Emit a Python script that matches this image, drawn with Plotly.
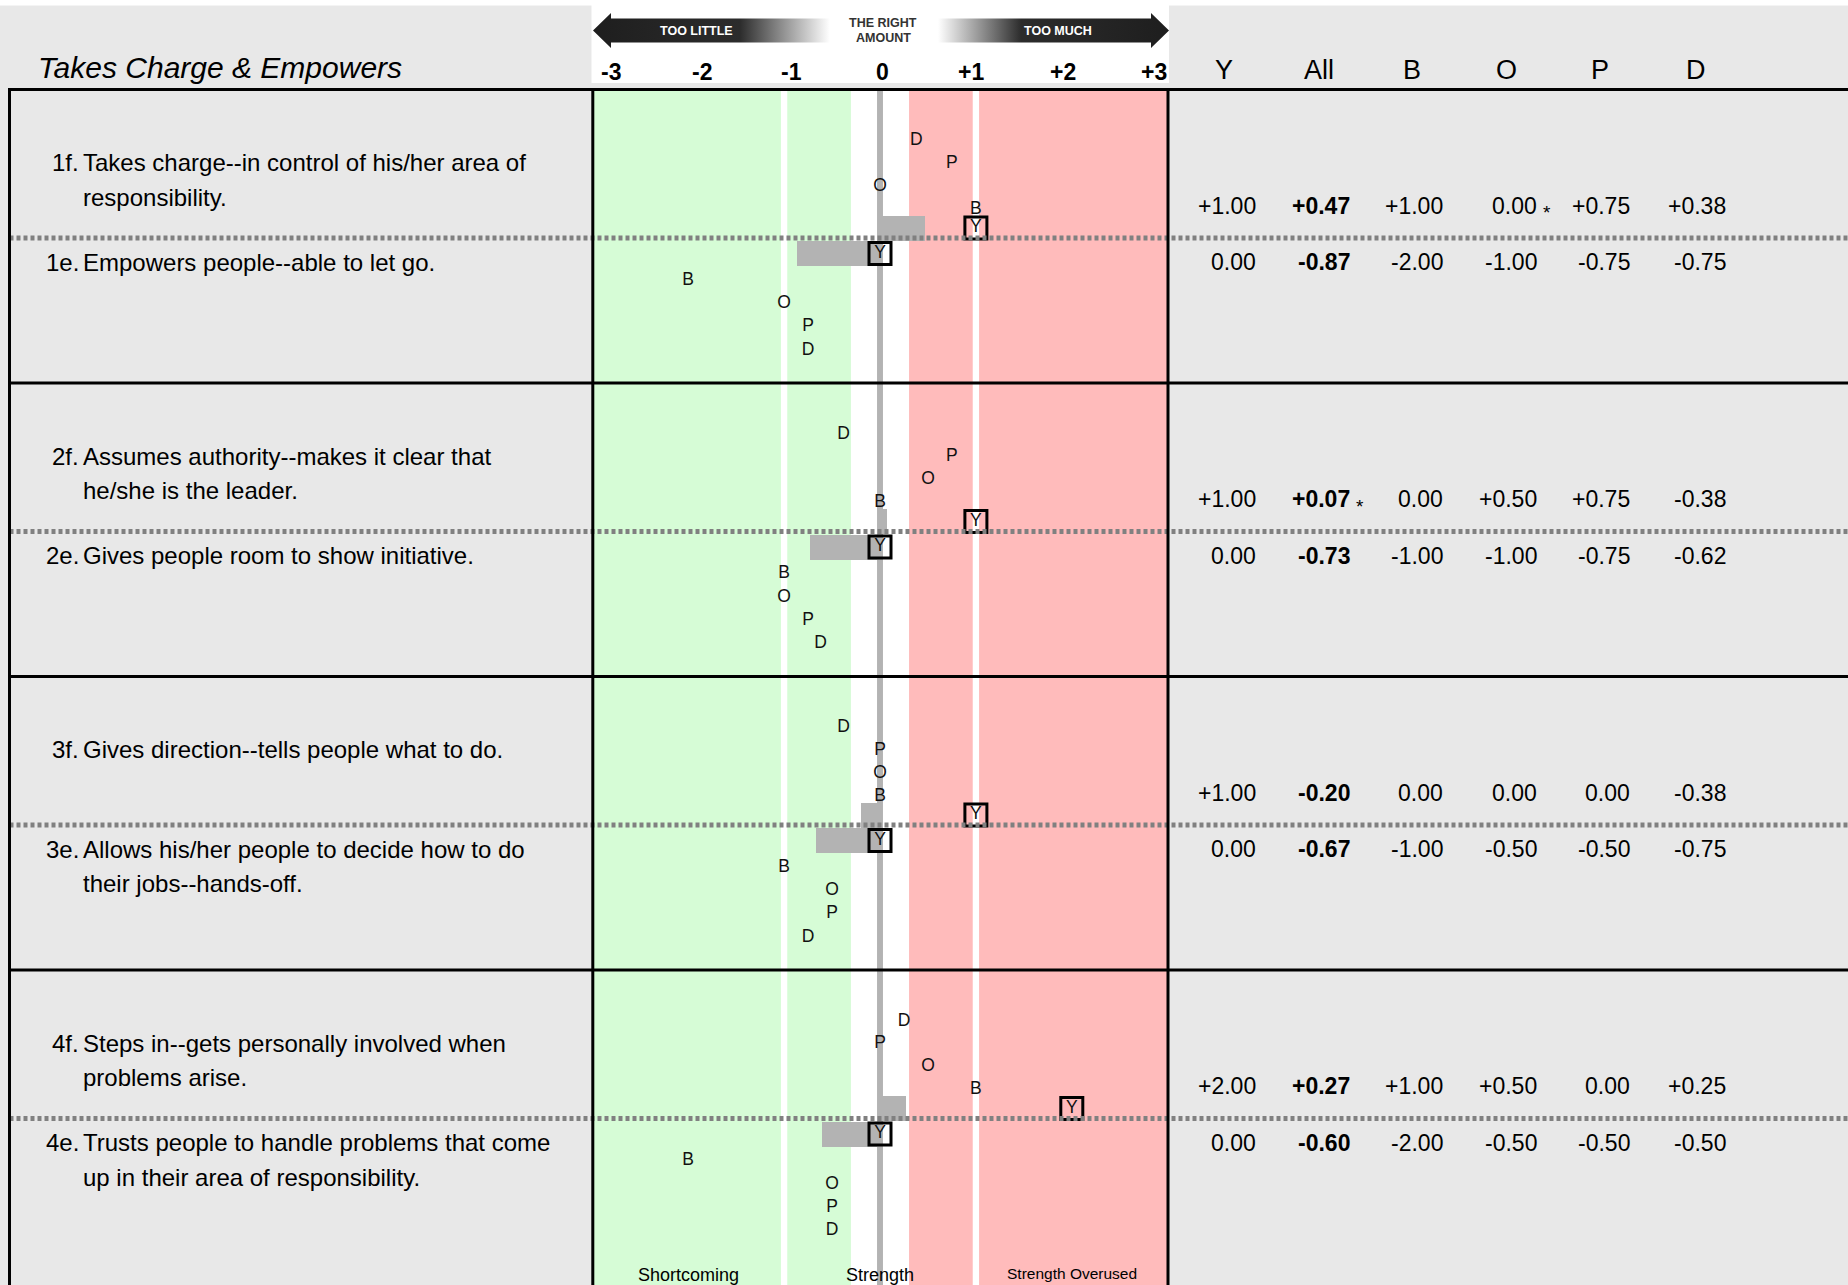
import plotly.graph_objects as go

# ---------------- data ----------------
TITLE = "Takes Charge & Empowers"
ITEM_IDS = ["1f", "1e", "2f", "2e", "3f", "3e", "4f", "4e"]
ITEM_LINES = [
    ["Takes charge--in control of his/her area of", "responsibility."],
    ["Empowers people--able to let go."],
    ["Assumes authority--makes it clear that", "he/she is the leader."],
    ["Gives people room to show initiative."],
    ["Gives direction--tells people what to do."],
    ["Allows his/her people to decide how to do", "their jobs--hands-off."],
    ["Steps in--gets personally involved when", "problems arise."],
    ["Trusts people to handle problems that come", "up in their area of responsibility."],
]
COLUMNS = ["Y", "All", "B", "O", "P", "D"]
Y_SELF = [1.00, 0.00, 1.00, 0.00, 1.00, 0.00, 2.00, 0.00]
ALL = [0.47, -0.87, 0.07, -0.73, -0.20, -0.67, 0.27, -0.60]
BOSS = [1.00, -2.00, 0.00, -1.00, 0.00, -1.00, 1.00, -2.00]
OTHER = [0.00, -1.00, 0.50, -1.00, 0.00, -0.50, 0.50, -0.50]
PEER = [0.75, -0.75, 0.75, -0.75, 0.00, -0.50, 0.00, -0.50]
DIRECT = [0.38, -0.75, -0.38, -0.62, -0.38, -0.75, 0.25, -0.50]
STARRED = [("1f", "O"), ("2f", "All")]
SCALE_TICKS = ["-3", "-2", "-1", "0", "+1", "+2", "+3"]
ARROW_LEFT_TEXT = "TOO LITTLE"
ARROW_RIGHT_TEXT = "TOO MUCH"
ARROW_MID_TEXT = ["THE RIGHT", "AMOUNT"]
ZONE_LABELS = ["Shortcoming", "Strength", "Strength Overused"]
ZONE_LABEL_AT = [-2, 0, 2]

# ---------------- layout constants (pixels) ----------------
W, H = 1848, 1285
PX_M3, PX_P3 = 592.3, 1167.7          # pixel position of -3 and +3
TABLE_TOP, GROUP_H, DOT0 = 89.6, 293.5, 238.0
LEFT_X, PANEL_L, PANEL_R = 9.5, 592.8, 1168.0
TICK_PX = [611, 702, 791, 882, 971, 1063, 1154]
HEAD_PX = [1224, 1319, 1412, 1506, 1600, 1696]
RIGHT_PX = [1256, 1350, 1443, 1537, 1630, 1726]
FONT = '"Liberation Sans", Arial, sans-serif'
GREEN, RED, BAR_GRAY, BG = "#d6fcd6", "#ffbbbb", "#b3b3b3", "#e8e8e8"

n = len(ITEM_IDS)
group = [i // 2 for i in range(n)]
is_f = [i % 2 == 0 for i in range(n)]
dot_y = [DOT0 + g * GROUP_H for g in group]
SLOT_F = {"Y": -10, "B": -28.5, "O": -51.5, "P": -74.5, "D": -97}
SLOT_E = {"Y": 15.5, "B": 42.5, "O": 66, "P": 89, "D": 112.5}


def slot(key):
    return [dot_y[i] + (SLOT_F if is_f[i] else SLOT_E)[key] for i in range(n)]


fig = go.Figure()

# header arrows (gradient)
fig.add_trace(go.Scatter(
    x=[593, 611, 611, 830, 830, 611, 611, 593],
    y=[30.5, 13, 18.5, 18.5, 42.5, 42.5, 48, 30.5],
    xaxis="x2", yaxis="y", mode="lines", fill="toself", line=dict(width=0),
    fillgradient=dict(type="horizontal", start=593, stop=830,
                      colorscale=[[0, "#1e1e1e"], [0.62, "#2c2c2c"], [1, "#ffffff"]]),
    hoverinfo="skip", showlegend=False))
fig.add_trace(go.Scatter(
    x=[938, 1151, 1151, 1169, 1151, 1151, 938, 938],
    y=[18.5, 18.5, 13, 30.5, 48, 42.5, 42.5, 18.5],
    xaxis="x2", yaxis="y", mode="lines", fill="toself", line=dict(width=0),
    fillgradient=dict(type="horizontal", start=938, stop=1169,
                      colorscale=[[0, "#ffffff"], [0.36, "#2c2c2c"], [1, "#1e1e1e"]]),
    hoverinfo="skip", showlegend=False))

# average bars
fig.add_trace(go.Bar(x=ALL, y=slot("Y"), base=0, orientation="h", width=25,
                     marker=dict(color=BAR_GRAY, line=dict(width=0)),
                     xaxis="x", yaxis="y", hoverinfo="skip", showlegend=False))

# rater letters
for key, series in [("B", BOSS), ("O", OTHER), ("P", PEER), ("D", DIRECT)]:
    fig.add_trace(go.Scatter(x=series, y=slot(key), mode="text", text=[key] * n,
                             textposition="middle center",
                             textfont=dict(family=FONT, size=17.5, color="#111"),
                             xaxis="x", yaxis="y", cliponaxis=False,
                             hoverinfo="skip", showlegend=False))

# self (boxed Y)
fig.add_trace(go.Scatter(x=Y_SELF, y=slot("Y"), mode="markers+text", text=["Y"] * n,
                         textposition="middle center",
                         textfont=dict(family=FONT, size=17.5, color="#111"),
                         marker=dict(symbol="square", size=22, color="rgba(0,0,0,0)",
                                     line=dict(color="black", width=3)),
                         xaxis="x", yaxis="y", cliponaxis=False,
                         hoverinfo="skip", showlegend=False))

# ---------------- shapes ----------------
shapes = []


def rect(x0, x1, y0, y1, color, xref="x2", layer="below"):
    shapes.append(dict(type="rect", xref=xref, yref="y", x0=x0, x1=x1, y0=y0, y1=y1,
                       fillcolor=color, line=dict(width=0), layer=layer))


def seg(x0, x1, y0, y1, color, width, dash="solid", xref="x2"):
    shapes.append(dict(type="line", xref=xref, yref="y", x0=x0, x1=x1, y0=y0, y1=y1,
                       line=dict(color=color, width=width, dash=dash), layer="above"))


rect(0, W, 0, 5.5, "white")
rect(591.5, 1169, 0, 83, "white")
rect(-3, -0.303, TABLE_TOP, H, GREEN, xref="x")
rect(-0.303, 0.303, TABLE_TOP, H, "white", xref="x")
rect(0.303, 3, TABLE_TOP, H, RED, xref="x")
for c in (-1, 1):
    rect(c - 0.033, c + 0.033, TABLE_TOP, H, "white", xref="x")
rect(-0.031, 0.031, TABLE_TOP, H, BAR_GRAY, xref="x")
for g in range(4):
    yy = TABLE_TOP + g * GROUP_H
    seg(LEFT_X - 1.5, W, yy, yy, "black", 3)
    yd = DOT0 + g * GROUP_H
    seg(LEFT_X, W, yd, yd, "#808080", 5, dash="4px,3px")
for xx in (LEFT_X, PANEL_L, PANEL_R):
    seg(xx, xx, TABLE_TOP - 1.5, H, "black", 3)

# ---------------- annotations ----------------
ann = []


def text(x, y, s, size, xanchor="center", xref="x2", color="black",
         weight="normal", style="normal"):
    ann.append(dict(x=x, y=y, xref=xref, yref="y", text=s, showarrow=False,
                    xanchor=xanchor, yanchor="middle", borderpad=0, borderwidth=0,
                    font=dict(family=FONT, size=size, color=color, weight=weight,
                              style=style)))


text(38, 67.5, TITLE, 30, xanchor="left", style="italic")
for px, s in zip(TICK_PX, SCALE_TICKS):
    text(px, 71.5, s, 23, weight="bold")
text(696, 31, ARROW_LEFT_TEXT, 12.5, color="white", weight="bold")
text(1058, 31, ARROW_RIGHT_TEXT, 12.5, color="white", weight="bold")
text(883, 22.5, ARROW_MID_TEXT[0], 12.5, color="#333", weight="bold")
text(883, 38, ARROW_MID_TEXT[1], 12.5, color="#333", weight="bold")
for c, px in zip(COLUMNS, HEAD_PX):
    text(px, 69.5, c, 27)

col_values = [Y_SELF, ALL, BOSS, OTHER, PEER, DIRECT]


def fmt(v):
    return "0.00" if v == 0 else f"{v:+.2f}"


for i in range(n):
    top = TABLE_TOP + group[i] * GROUP_H
    y0 = top + 73 if is_f[i] else dot_y[i] + 24.3
    text(79, y0, ITEM_IDS[i] + ".", 24, xanchor="right")
    for k, ln in enumerate(ITEM_LINES[i]):
        text(83.4, y0 + k * 34.6, ln, 24, xanchor="left")
    vy = dot_y[i] - 32.5 if is_f[i] else dot_y[i] + 24.3
    for j, col in enumerate(COLUMNS):
        text(RIGHT_PX[j], vy, fmt(col_values[j][i]), 23, xanchor="right",
             weight="bold" if col == "All" else "normal")

for item, col in STARRED:
    i = ITEM_IDS.index(item)
    j = COLUMNS.index(col)
    vy = dot_y[i] - 32.5 if is_f[i] else dot_y[i] + 24.3
    text(RIGHT_PX[j] + 9.5, vy + 7, "*", 19)

for s, xv, sz, yv in zip(ZONE_LABELS, ZONE_LABEL_AT, [18, 18, 15.5], [1275, 1275, 1273]):
    text(xv, yv, s, sz, xref="x")

fig.update_layout(
    width=W, height=H, autosize=False, margin=dict(l=0, r=0, t=0, b=0, pad=0),
    paper_bgcolor=BG, plot_bgcolor="rgba(0,0,0,0)", showlegend=False,
    xaxis=dict(domain=[PX_M3 / W, PX_P3 / W], range=[-3, 3], visible=False,
               fixedrange=True, anchor="y"),
    xaxis2=dict(domain=[0, 1], range=[0, W], visible=False, fixedrange=True, anchor="y"),
    yaxis=dict(domain=[0, 1], range=[H, 0], visible=False, fixedrange=True, anchor="x"),
    shapes=shapes, annotations=ann, bargap=0,
)

fig.write_html("out.html", config={"displayModeBar": False, "staticPlot": True},
               post_script="document.body.style.margin='0';")
